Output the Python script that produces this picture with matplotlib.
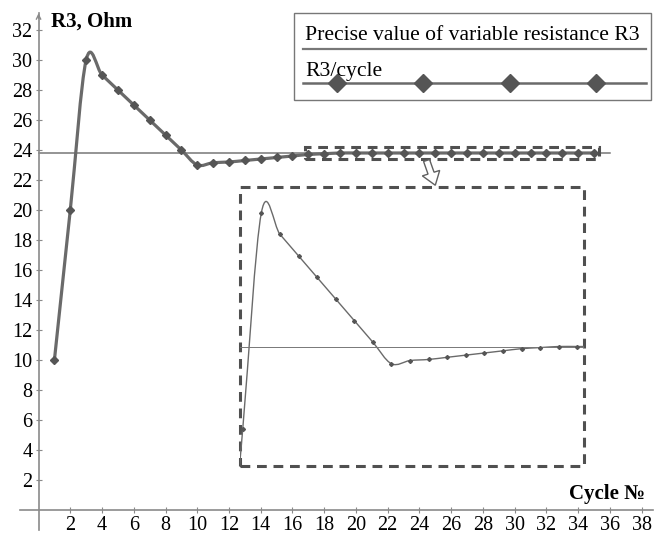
import matplotlib
matplotlib.use("Agg")
import matplotlib.pyplot as plt
import numpy as np
from matplotlib.lines import Line2D
from matplotlib.patches import FancyArrow, PathPatch, Rectangle
from matplotlib.path import Path

plt.rcParams['font.family'] = ['Liberation Serif', 'DejaVu Serif']

cycles = list(range(1, 36))
r3 = [10, 20, 30, 29, 28, 27, 26, 25, 24, 23,
      23.15, 23.2, 23.3, 23.4, 23.5, 23.6, 23.7, 23.75, 23.8, 23.8,
      23.8, 23.8, 23.8, 23.8, 23.8, 23.8, 23.8, 23.8, 23.8, 23.8,
      23.8, 23.8, 23.8, 23.8, 23.8]
precise_r3 = 23.8
x_ticks = list(range(2, 39, 2))
y_ticks = list(range(2, 33, 2))

LINE = '#6a6a6a'
MARK = '#555555'
AXIS = '#8a8a8a'
W, H = 666, 534


def fx(px):
    return px / W


def fy(py):
    return 1 - py / H


def smooth_path(x, y):
    # excel-like smoothed line: cubic bezier with catmull-rom control points
    pts = np.column_stack([x, y]).astype(float)
    n = len(pts)
    verts = [pts[0]]
    codes = [Path.MOVETO]
    for i in range(n - 1):
        p0 = pts[max(i - 1, 0)]
        p1 = pts[i]
        p2 = pts[i + 1]
        p3 = pts[min(i + 2, n - 1)]
        verts += [p1 + (p2 - p0) / 6, p2 - (p3 - p1) / 6, p2]
        codes += [Path.CURVE4] * 3
    return Path(verts, codes)


fig = plt.figure(figsize=(6.66, 5.34), dpi=100)
xlim = (-1.2, 38.8)
ylim = (-1.3, 33.3)
left_px, right_px = 19.5, 654.3
top_px, bot_px = 10.5, 529.5
ax = fig.add_axes([fx(left_px), fy(bot_px), fx(right_px - left_px), (bot_px - top_px) / H])
ax.set_xlim(*xlim)
ax.set_ylim(*ylim)

for s in ('top', 'right'):
    ax.spines[s].set_visible(False)
for s in ('left', 'bottom'):
    ax.spines[s].set_position(('data', 0))
    ax.spines[s].set_color(AXIS)
    ax.spines[s].set_linewidth(1.2)
ax.spines['left'].set_bounds(-1.3, 33.1)
ax.spines['bottom'].set_bounds(-1.2, 38.7)
ax.annotate('', xy=(0, 33.3), xytext=(0, 32.6),
            arrowprops=dict(arrowstyle='->', color=AXIS, lw=1.0, mutation_scale=8))
ax.annotate('', xy=(38.85, 0), xytext=(38.2, 0),
            arrowprops=dict(arrowstyle='->', color=AXIS, lw=1.0, mutation_scale=8))

ax.set_xticks(x_ticks)
ax.set_yticks(y_ticks)
ax.tick_params(direction='inout', length=5, width=0.8, color=AXIS, labelsize=14.5, pad=2)
ax.tick_params(axis='x', pad=1.5)

# precise value line
ax.plot([0, 36], [precise_r3, precise_r3], color='#777777', lw=1.1, zorder=2)

# main smoothed series with markers
ax.add_patch(PathPatch(smooth_path(cycles, r3), fill=False, edgecolor=LINE, lw=2.3, zorder=3))
ax.plot(cycles, r3, ls='none', marker='D', ms=3.6, color=MARK, zorder=4)

# dashed box around the settled part and the arrow to the zoomed view
dash = dict(fill=False, edgecolor='#505050', lw=2.2, ls=(0, (3.2, 2.2)), zorder=5)
ax.add_patch(Rectangle((16.8, 23.4), 18.5, 0.8, **dash))
ax.add_patch(FancyArrow(24.45, 23.3, 0.55, -1.65, width=0.4, head_width=1.15,
                        head_length=0.85, length_includes_head=True,
                        facecolor='white', edgecolor='#606060', lw=1.0, zorder=6))

# zoomed view
box = (12.7, 2.93, 21.67, 18.6)
ax.add_patch(Rectangle(box[:2], box[2], box[3], **dash))
ins = ax.inset_axes(box, transform=ax.transData)
ins.set_xlim(1.855, 20.36)
ins.set_ylim(18.26, 31.19)
ins.axis('off')
ins.patch.set_visible(False)
ins.plot([1.855, 20.36], [precise_r3, precise_r3], color='#777777', lw=0.7)
ins.add_patch(PathPatch(smooth_path(cycles, r3), fill=False, edgecolor=LINE, lw=1.0))
ins.plot(cycles, r3, ls='none', marker='D', ms=2.0, color=MARK)

# axis titles
fig.text(fx(50.7), fy(27), 'R3, Ohm', fontsize=15, fontweight='bold', va='baseline')
fig.text(fx(645), fy(499), 'Cycle №', fontsize=15, fontweight='bold',
         ha='right', va='baseline')

# legend drawn by hand (text above each sample line)
fig.patches.append(Rectangle((fx(294), fy(100)), fx(650.7 - 294), (100 - 13.3) / H,
                             transform=fig.transFigure, fill=False,
                             edgecolor='#777777', lw=1.0))
fig.text(fx(305), fy(40), 'Precise value of variable resistance R3', fontsize=15.6,
         va='baseline')
fig.lines.append(Line2D([fx(302.7), fx(646)], [fy(49), fy(49)], transform=fig.transFigure,
                        color='#777777', lw=1.6))
fig.text(fx(305), fy(76), 'R3/cycle', fontsize=15.6, va='baseline')
fig.lines.append(Line2D([fx(302.7), fx(646)], [fy(83.3), fy(83.3)], transform=fig.transFigure,
                        color=LINE, lw=1.8))
fig.lines.append(Line2D([fx(336.7), fx(423), fx(510), fx(596)], [fy(83.3)] * 4,
                        transform=fig.transFigure, ls='none', marker='D', ms=9,
                        color=MARK))

fig.savefig('out.png', dpi=100)
